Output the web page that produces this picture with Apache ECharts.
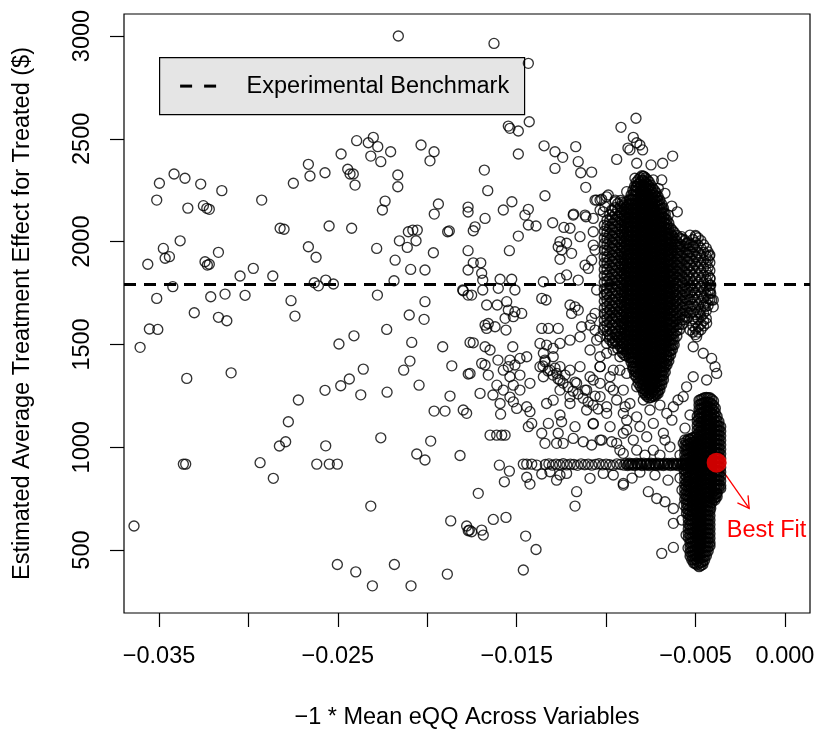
<!DOCTYPE html>
<html>
<head>
<meta charset="utf-8">
<script src="https://cdn.jsdelivr.net/npm/echarts@6/dist/echarts.min.js"></script>
<style>
html,body{margin:0;padding:0;background:#fff;}
#chart{width:817px;height:730px;}
</style>
</head>
<body>
<div id="chart"></div>
<script>
// ---------------- DATA ----------------
const xTickValues = [-0.035,-0.030,-0.025,-0.020,-0.015,-0.010,-0.005,0.000];
const xLabelValues = [-0.035,-0.025,-0.015,-0.005,0.000];
const yTickValues = [500,1000,1500,2000,2500,3000];
const benchmark = 1794;
const bestFit = [-0.00382, 925];
const bestFitArrow = [-0.00348, 886, -0.00200, 703];
const bestFitLabelPos = [-0.00103, 597];

const ptsLeftTop = [
[-0.02162,3000],[-0.02395,2491],[-0.02330,2481],[-0.02302,2507],[-0.02277,2462],[-0.02205,2437],[-0.02316,2416],[-0.02260,2389],[-0.02482,2426],[-0.02035,2470],[-0.01962,2437],[-0.01985,2393],
[-0.02665,2376],[-0.02656,2319],[-0.02572,2335],[-0.02749,2284],[-0.02445,2352],[-0.02432,2329],[-0.02414,2329],[-0.02404,2275],[-0.02165,2324],[-0.02165,2267],
[-0.03498,2284],[-0.03416,2329],[-0.03355,2308],[-0.03267,2280],[-0.03149,2248],
[-0.03513,2202],[-0.03339,2163],[-0.03252,2175],[-0.03233,2162],[-0.03219,2157],
[-0.02926,2202],[-0.02236,2197],[-0.02251,2154],[-0.01938,2183],[-0.01961,2134],[-0.01772,2168],[-0.01772,2144],
[-0.02823,2065],[-0.02801,2060],[-0.02549,2076],[-0.02423,2065],[-0.02106,2048],[-0.02081,2056],[-0.02056,2056],[-0.02156,2004],[-0.02063,2004],[-0.02112,1972],[-0.01886,2048],[-0.01877,2052],
[-0.03382,2004],[-0.03476,1967],[-0.03466,1919],[-0.03442,1927],[-0.03563,1890],[-0.03168,1948],[-0.03243,1902],[-0.03230,1886],[-0.03219,1890],
[-0.02665,1975],[-0.02622,1924],[-0.02283,1967],[-0.02180,1910],[-0.01966,1946],[-0.02093,1865],[-0.02013,1862],[-0.01772,1956],[-0.01772,1862],
[-0.02973,1870],[-0.03047,1833],[-0.02864,1833],[-0.02186,1810],[-0.02632,1800],[-0.02609,1785],[-0.02568,1813],[-0.02525,1794],
[-0.03423,1781],[-0.03513,1724],[-0.03211,1732],[-0.03131,1745],[-0.03019,1739],[-0.02762,1713],[-0.02279,1740],[-0.02013,1708],[-0.01799,1761],[-0.01772,1740],
[-0.03303,1654],[-0.03168,1632],[-0.03121,1615],[-0.02740,1638],[-0.02101,1643],[-0.02018,1622]
];
const ptsLeftBottom = [
[-0.03554,1575],[-0.03507,1573],[-0.03606,1486],[-0.02494,1502],[-0.02410,1542],[-0.02227,1573],[-0.02087,1510],[-0.01914,1489],[-0.01761,1510],
[-0.03345,1335],[-0.03097,1362],[-0.02097,1419],[-0.02132,1375],[-0.02358,1380],[-0.02436,1332],[-0.02484,1299],[-0.02572,1277],[-0.02372,1255],[-0.02225,1268],[-0.02046,1302],[-0.01863,1396],[-0.01771,1356],
[-0.02721,1230],[-0.01873,1249],[-0.01962,1176],[-0.01901,1176],[-0.01799,1181],[-0.01780,1165],
[-0.02777,1124],[-0.02792,1027],[-0.02827,1006],[-0.02568,1007],[-0.02260,1046],[-0.01981,1030],[-0.02059,967],[-0.02013,938],[-0.01817,960],
[-0.03364,918],[-0.03351,918],[-0.02935,925],[-0.02861,849],[-0.02618,918],[-0.02548,918],[-0.02503,918],
[-0.02316,714],[-0.01869,642],[-0.01780,617],[-0.01771,594],[-0.03640,617],
[-0.02503,430],[-0.02400,394],[-0.02184,430],[-0.02307,326],[-0.02091,326],[-0.01888,383]
];
const ptsMidTop = [
[-0.01627,2964],[-0.01435,2867],[-0.01547,2562],[-0.01538,2551],[-0.01491,2538],[-0.01430,2583],[-0.01491,2426],[-0.01347,2466],[-0.01286,2437],[-0.01243,2410],[-0.01170,2462],[-0.01156,2389],[-0.01142,2335],[-0.01081,2338],[-0.01286,2356],[-0.01681,2348],[-0.01662,2248],[-0.00941,2400],[-0.00917,2556],[-0.00878,2455],[-0.01114,2264],[-0.01342,2223],[-0.01527,2194],[-0.01575,2154],[-0.01435,2157],[-0.01454,2129],[-0.01677,2113],[-0.01182,2134],[-0.01118,2129],[-0.01062,2202],[-0.01034,2202],[-0.00988,2227],[-0.00950,2194]
];
const ptsMidCenter = [
[-0.01733,2072],[-0.01743,2053],[-0.01435,2081],[-0.01392,2076],[-0.01491,2027],[-0.01299,2092],[-0.01236,2069],[-0.01202,2065],[-0.01184,2129],[-0.01113,2121],[-0.01072,2113],[-0.01016,2145],[-0.01146,2024],[-0.01072,2048],
[-0.01258,2000],[-0.01221,1992],[-0.01268,1975],[-0.01249,1959],[-0.01193,1943],[-0.01258,1914],[-0.01541,1956],
[-0.01743,1897],[-0.01701,1897],[-0.01696,1846],[-0.01690,1813],[-0.01593,1817],[-0.01528,1817],[-0.01351,1805],[-0.01258,1821],[-0.01221,1838],
[-0.01156,1813],[-0.01100,1870],[-0.01118,1886],[-0.01081,1910],[-0.01062,1959],[-0.01072,1983],
[-0.01802,1765],[-0.01752,1740],[-0.01690,1765],[-0.01603,1773],[-0.01510,1765],[-0.01360,1724],[-0.01336,1716],
[-0.01668,1692],[-0.01609,1692],[-0.01556,1708],[-0.01547,1667],[-0.01510,1659],[-0.01472,1651],[-0.01565,1627],[-0.01519,1635],
[-0.01677,1594],[-0.01659,1602],[-0.01668,1578],[-0.01621,1586],[-0.01560,1570],[-0.01360,1578],[-0.01323,1578],[-0.01268,1578],
[-0.01193,1651],[-0.01156,1667],[-0.01174,1683],[-0.01202,1692],[-0.01081,1627],[-0.01090,1594],[-0.01062,1570],[-0.01137,1586],
[-0.01743,1508],[-0.01677,1489],[-0.01649,1473],[-0.01522,1489],[-0.01482,1432],[-0.01444,1440],[-0.01538,1424],
[-0.01696,1408],[-0.01677,1400],[-0.01761,1359],[-0.01659,1351],[-0.01575,1375],[-0.01547,1392],[-0.01538,1343],
[-0.01611,1302],[-0.01575,1278],[-0.01519,1302],[-0.01482,1278],[-0.01426,1311],[-0.01705,1262],[-0.01593,1213],[-0.01519,1221],[-0.01444,1197],
[-0.01370,1392],[-0.01342,1416],[-0.01351,1343],[-0.01314,1375],[-0.01276,1359],[-0.01258,1327],
[-0.01370,1505],[-0.01333,1497],[-0.01296,1481],[-0.01258,1505],[-0.01202,1521],[-0.01146,1537],[-0.01351,1457],[-0.01296,1440],
[-0.01034,1537],[-0.00997,1505],[-0.00960,1473],[-0.01090,1473],[-0.01034,1440],[-0.00941,1537],[-0.00904,1505],
[-0.01258,1392],[-0.01202,1375],[-0.01146,1392],[-0.01090,1343],[-0.01034,1392],[-0.00978,1343],[-0.00923,1375],[-0.01165,1311],[-0.01109,1278],[-0.01034,1311],[-0.00960,1278],[-0.01258,1278],[-0.01202,1246],[-0.01296,1229],
[-0.01353,1395],[-0.01325,1371],[-0.01297,1351],[-0.01269,1332],[-0.01241,1312],[-0.01213,1293],[-0.01185,1273],[-0.01157,1259],[-0.01129,1239],[-0.01101,1220],[-0.01073,1205],[-0.01045,1186],
[-0.01342,1424],[-0.01286,1385],[-0.01230,1351],[-0.01174,1317],[-0.01118,1278],[-0.01062,1249],
[-0.01605,1424],[-0.01510,1400],[-0.01482,1351],[-0.01633,1254],[-0.01538,1244]
];
const ptsMidBottom = [
[-0.01590,1161],[-0.01500,1189],
[-0.01426,1173],[-0.01416,1116],[-0.01435,1100],[-0.01360,1068],[-0.01342,1019],[-0.01323,1116],[-0.01258,1157],[-0.01249,1124],[-0.01268,1068],[-0.01277,1019],[-0.01240,1019],[-0.01174,1100],[-0.01184,1043],[-0.01128,1027],[-0.01081,1011],[-0.01072,1113],[-0.01025,1035],[-0.00969,1027],[-0.00923,986],[-0.00904,1068],[-0.00885,1132],[-0.00894,1197],[-0.00997,1197],[-0.01109,1181],[-0.01202,1213],[-0.01333,1213],
[-0.01649,1059],[-0.01612,1059],[-0.01584,1059],[-0.01565,1059],
[-0.01597,913],[-0.01541,884],[-0.01569,832],
[-0.01463,918],[-0.01444,918],[-0.01416,918],[-0.01388,913],
[-0.01444,854],[-0.01426,821],[-0.01360,870],
[-0.01314,881],[-0.01277,840],[-0.01258,865],[-0.01221,873],
[-0.01090,849],[-0.01016,873],[-0.00960,865],[-0.00904,816],
[-0.01165,784],[-0.01174,714],
[-0.01715,776],[-0.01631,649],[-0.01560,659],
[-0.01765,597],[-0.01752,589],[-0.01696,597],[-0.01687,573],
[-0.01450,568],[-0.01392,503],[-0.01463,403]
];
const ptsRight = [
[-0.00833,2600],[-0.00848,2507],[-0.00829,2481],[-0.00811,2470],[-0.00796,2446],[-0.00867,2446],
[-0.00829,2381],[-0.00749,2373],[-0.00684,2381],[-0.00628,2416],
[-0.00839,2308],[-0.00792,2316],[-0.00736,2300],[-0.00689,2300],[-0.00829,2267],[-0.00708,2259],[-0.00885,2243],[-0.00671,2235],
[-0.00633,2173],[-0.00602,2145],[-0.00652,2129],
[-0.01053,2202],[-0.01025,2206],[-0.00997,2218],[-0.00950,2202],[-0.01006,2170],[-0.01034,2154],[-0.00969,2154],
[-0.00578,2024],[-0.00531,2032],[-0.00498,2024],[-0.00550,1992],[-0.00587,1975],[-0.00513,1975],[-0.00494,1927],[-0.00423,1930],[-0.00419,1821],
[-0.00415,1789],[-0.00415,1748],[-0.00410,1716],[-0.00401,1683],
[-0.01053,1765],[-0.00997,1748],[-0.01062,1651],[-0.00978,1667],[-0.00941,1635],[-0.01016,1570],[-0.01053,1521],[-0.00960,1505],[-0.00904,1537],[-0.00997,1457],[-0.00923,1440],[-0.01034,1392],[-0.00960,1375],[-0.00885,1359],[-0.01072,1327],[-0.00978,1294],[-0.00904,1278],[-0.00829,1294],[-0.01034,1246],[-0.00941,1230],[-0.00867,1213],[-0.00792,1230],[-0.00997,1165],[-0.00904,1165],[-0.00829,1148],[-0.00755,1181],[-0.01072,1116],[-0.00978,1100],[-0.00885,1084],[-0.00811,1100],[-0.00736,1116],[-0.01034,1035],[-0.00941,1019],[-0.00848,1035],[-0.00773,1051],[-0.00680,1068],[-0.00904,970],[-0.00829,986],[-0.00736,986],[-0.00643,1002],[-0.00569,1019],
[-0.00475,1781],[-0.00419,1765],[-0.00401,1716],[-0.00447,1683],[-0.00475,1651],[-0.00438,1603],[-0.00531,1570],[-0.00494,1537],[-0.00513,1489],[-0.00457,1457],[-0.00410,1432],[-0.00391,1392],[-0.00382,1359],[-0.00438,1327],[-0.00513,1343],[-0.00550,1294],[-0.00569,1246],[-0.00624,1197],[-0.00661,1165],
[-0.00699,1205],[-0.00632,1132],[-0.00559,1093],[-0.00531,1157],[-0.00598,1230],[-0.00671,1035],[-0.00531,1035],[-0.00587,962],[-0.00699,962],[-0.00783,962],
[-0.00727,865],[-0.00654,840],[-0.00587,850],[-0.00531,816],[-0.00811,879],[-0.00855,850],
[-0.00764,784],[-0.00717,751],[-0.00671,735],[-0.00624,702],[-0.00624,630],[-0.00689,484],[-0.00624,513],[-0.00904,824],
[-0.00576,792],[-0.00565,719],[-0.00576,646],[-0.00553,573],[-0.00542,510],[-0.00565,889],
[-0.00415,703],[-0.00429,759],[-0.00391,743],[-0.00382,776]
];
const mainCore = [
[-0.0088,[2180,2158,2136,2114,2092,2070,2048,2026,2004,1982,1960,1938,1916,1894,1872,1850,1828,1806,1784,1762,1740,1718,1696,1674,1652,1630,1608,1586,1564,1542,1520,1498,1476,1454]],
[-0.0087,[2204,2182,2160,2138,2116,2094,2072,2050,2028,2006,1984,1962,1940,1918,1896,1874,1852,1830,1808,1786,1764,1742,1720,1698,1676,1654,1632,1610,1588,1566,1544,1522,1500,1478,1456,1436]],
[-0.0086,[2227,2205,2183,2161,2139,2117,2095,2073,2051,2029,2007,1985,1963,1941,1919,1897,1875,1853,1831,1809,1787,1765,1743,1721,1699,1677,1655,1633,1611,1589,1567,1545,1523,1501,1479,1457,1435,1413]],
[-0.0085,[2250,2228,2206,2184,2162,2140,2118,2096,2074,2052,2030,2008,1986,1964,1942,1920,1898,1876,1854,1832,1810,1788,1766,1744,1722,1700,1678,1656,1634,1612,1590,1568,1546,1524,1502,1480,1458,1436,1414,1392,1380]],
[-0.0084,[2270,2248,2226,2204,2182,2160,2138,2116,2094,2072,2050,2028,2006,1984,1962,1940,1918,1896,1874,1852,1830,1808,1786,1764,1742,1720,1698,1676,1654,1632,1610,1588,1566,1544,1522,1500,1478,1456,1434,1412,1390,1368,1352]],
[-0.0083,[2290,2268,2246,2224,2202,2180,2158,2136,2114,2092,2070,2048,2026,2004,1982,1960,1938,1916,1894,1872,1850,1828,1806,1784,1762,1740,1718,1696,1674,1652,1630,1608,1586,1564,1542,1520,1498,1476,1454,1432,1410,1388,1366,1340]],
[-0.0082,[2301,2279,2257,2235,2213,2191,2169,2147,2125,2103,2081,2059,2037,2015,1993,1971,1949,1927,1905,1883,1861,1839,1817,1795,1773,1751,1729,1707,1685,1663,1641,1619,1597,1575,1553,1531,1509,1487,1465,1443,1421,1399,1377,1355,1333,1313]],
[-0.0081,[2311,2289,2267,2245,2223,2201,2179,2157,2135,2113,2091,2069,2047,2025,2003,1981,1959,1937,1915,1893,1871,1849,1827,1805,1783,1761,1739,1717,1695,1673,1651,1629,1607,1585,1563,1541,1519,1497,1475,1453,1431,1409,1387,1365,1343,1321,1299]],
[-0.0080,[2320,2298,2276,2254,2232,2210,2188,2166,2144,2122,2100,2078,2056,2034,2012,1990,1968,1946,1924,1902,1880,1858,1836,1814,1792,1770,1748,1726,1704,1682,1660,1638,1616,1594,1572,1550,1528,1506,1484,1462,1440,1418,1396,1374,1352,1330,1308,1286]],
[-0.0079,[2318,2296,2274,2252,2230,2208,2186,2164,2142,2120,2098,2076,2054,2032,2010,1988,1966,1944,1922,1900,1878,1856,1834,1812,1790,1768,1746,1724,1702,1680,1658,1636,1614,1592,1570,1548,1526,1504,1482,1460,1438,1416,1394,1372,1350,1328,1306,1284,1266]],
[-0.0078,[2310,2288,2266,2244,2222,2200,2178,2156,2134,2112,2090,2068,2046,2024,2002,1980,1958,1936,1914,1892,1870,1848,1826,1804,1782,1760,1738,1716,1694,1672,1650,1628,1606,1584,1562,1540,1518,1496,1474,1452,1430,1408,1386,1364,1342,1320,1298,1276,1256]],
[-0.0077,[2301,2279,2257,2235,2213,2191,2169,2147,2125,2103,2081,2059,2037,2015,1993,1971,1949,1927,1905,1883,1861,1839,1817,1795,1773,1751,1729,1707,1685,1663,1641,1619,1597,1575,1553,1531,1509,1487,1465,1443,1421,1399,1377,1355,1333,1311,1289,1267,1247]],
[-0.0076,[2291,2269,2247,2225,2203,2181,2159,2137,2115,2093,2071,2049,2027,2005,1983,1961,1939,1917,1895,1873,1851,1829,1807,1785,1763,1741,1719,1697,1675,1653,1631,1609,1587,1565,1543,1521,1499,1477,1455,1433,1411,1389,1367,1345,1323,1301,1279,1257,1240]],
[-0.0075,[2275,2253,2231,2209,2187,2165,2143,2121,2099,2077,2055,2033,2011,1989,1967,1945,1923,1901,1879,1857,1835,1813,1791,1769,1747,1725,1703,1681,1659,1637,1615,1593,1571,1549,1527,1505,1483,1461,1439,1417,1395,1373,1351,1329,1307,1285,1263,1243]],
[-0.0074,[2260,2238,2216,2194,2172,2150,2128,2106,2084,2062,2040,2018,1996,1974,1952,1930,1908,1886,1864,1842,1820,1798,1776,1754,1732,1710,1688,1666,1644,1622,1600,1578,1556,1534,1512,1490,1468,1446,1424,1402,1380,1358,1336,1314,1292,1270,1248]],
[-0.0073,[2249,2227,2205,2183,2161,2139,2117,2095,2073,2051,2029,2007,1985,1963,1941,1919,1897,1875,1853,1831,1809,1787,1765,1743,1721,1699,1677,1655,1633,1611,1589,1567,1545,1523,1501,1479,1457,1435,1413,1391,1369,1347,1325,1303,1281,1259,1248]],
[-0.0072,[2237,2215,2193,2171,2149,2127,2105,2083,2061,2039,2017,1995,1973,1951,1929,1907,1885,1863,1841,1819,1797,1775,1753,1731,1709,1687,1665,1643,1621,1599,1577,1555,1533,1511,1489,1467,1445,1423,1401,1379,1357,1335,1313,1291,1269,1255]],
[-0.0071,[2220,2198,2176,2154,2132,2110,2088,2066,2044,2022,2000,1978,1956,1934,1912,1890,1868,1846,1824,1802,1780,1758,1736,1714,1692,1670,1648,1626,1604,1582,1560,1538,1516,1494,1472,1450,1428,1406,1384,1362,1340,1318,1296,1274,1262]],
[-0.0070,[2202,2180,2158,2136,2114,2092,2070,2048,2026,2004,1982,1960,1938,1916,1894,1872,1850,1828,1806,1784,1762,1740,1718,1696,1674,1652,1630,1608,1586,1564,1542,1520,1498,1476,1454,1432,1410,1388,1366,1344,1322,1300,1280]],
[-0.0069,[2183,2161,2139,2117,2095,2073,2051,2029,2007,1985,1963,1941,1919,1897,1875,1853,1831,1809,1787,1765,1743,1721,1699,1677,1655,1633,1611,1589,1567,1545,1523,1501,1479,1457,1435,1413,1391,1369,1347,1325,1305]],
[-0.0068,[2163,2141,2119,2097,2075,2053,2031,2009,1987,1965,1943,1921,1899,1877,1855,1833,1811,1789,1767,1745,1723,1701,1679,1657,1635,1613,1591,1569,1547,1525,1503,1481,1459,1437,1415,1393,1371,1349,1328]],
[-0.0067,[2134,2112,2090,2068,2046,2024,2002,1980,1958,1936,1914,1892,1870,1848,1826,1804,1782,1760,1738,1716,1694,1672,1650,1628,1606,1584,1562,1540,1518,1496,1474,1452,1430,1408,1390,1365]],
[-0.0066,[2105,2083,2061,2039,2017,1995,1973,1951,1929,1907,1885,1863,1841,1819,1797,1775,1753,1731,1709,1687,1665,1643,1621,1599,1577,1555,1533,1511,1489,1467,1445,1423,1401]]
];
const mainShoulders = [
[-0.0101,[2080,2050,2018,1990,1958,1925,1896,1865,1834,1803,1770,1741,1710,1678,1649,1617,1588]],
[-0.00995,[2105,2075,2045,2015,1985,1955,1925,1895,1865,1835,1805,1775,1745,1715,1685,1655,1625,1595,1565,1540]],
[-0.0098,[2130,2101,2068,2037,2008,1975,1946,1915,1883,1852,1821,1790,1760,1728,1697,1667,1636,1605,1574,1543,1524]],
[-0.00965,[2150,2118,2088,2058,2028,1996,1966,1934,1904,1872,1842,1810,1780,1750,1718,1688,1656,1626,1594,1562,1532,1510]],
[-0.0095,[2165,2133,2104,2072,2043,2011,1980,1950,1918,1888,1857,1826,1795,1764,1733,1702,1671,1640,1609,1578,1548,1515]],
[-0.00935,[2185,2155,2124,2094,2062,2032,2000,1970,1938,1908,1876,1846,1814,1784,1752,1722,1690,1660,1628,1598,1566,1536,1505,1480]],
[-0.0092,[2200,2171,2140,2109,2078,2047,2016,1985,1954,1923,1892,1861,1830,1799,1768,1737,1706,1675,1644,1613,1582,1551,1520,1489]],
[-0.0091,[2190,2160,2130,2100,2068,2036,2004,1974,1942,1912,1880,1850,1818,1788,1756,1726,1694,1664,1632,1602,1570,1540,1508,1478,1460]],
[-0.0090,[2178,2155,2128,2103,2076,2050,2024,1998,1971,1946,1920,1893,1868,1841,1815,1789,1763,1737,1711,1684,1659,1633,1606,1580,1555,1528,1502,1477,1450]],
[-0.0089,[2190,2166,2142,2116,2090,2064,2038,2012,1986,1960,1934,1908,1882,1856,1830,1804,1778,1752,1726,1700,1674,1648,1622,1596,1570,1544,1518,1492,1466,1445]],
[-0.0065,[2090,2064,2038,2012,1986,1960,1934,1908,1882,1856,1830,1804,1778,1752,1726,1700,1674,1648,1622,1596,1570,1544,1518,1492,1466,1440,1420]],
[-0.0064,[2066,2040,2015,1989,1962,1937,1911,1885,1859,1833,1807,1781,1755,1729,1703,1677,1651,1625,1599,1573,1547,1521,1495,1469,1450]],
[-0.0063,[2055,2028,2000,1972,1944,1916,1888,1860,1832,1804,1776,1748,1720,1692,1664,1636,1608,1580,1552,1524,1496,1475]],
[-0.0062,[2045,2016,1987,1958,1929,1900,1871,1842,1813,1784,1755,1726,1697,1668,1639,1610,1581,1552,1523,1498]],
[-0.00605,[2030,2002,1973,1944,1915,1886,1857,1828,1799,1770,1741,1712,1683,1654,1625,1596,1568,1540]],
[-0.0059,[2018,1988,1958,1928,1898,1868,1838,1808,1778,1748,1718,1688,1658,1628,1598,1572]],
[-0.00575,[2012,1980,1950,1920,1890,1860,1830,1800,1770,1740,1710,1680,1650,1620,1598]],
[-0.0056,[2006,1975,1944,1913,1882,1851,1820,1789,1758,1727,1696,1665,1634,1620]],
[-0.00545,[1995,1965,1934,1903,1872,1841,1810,1779,1748,1717,1686,1655,1630]],
[-0.0053,[1983,1950,1917,1884,1851,1818,1785,1752,1719,1686,1653]],
[-0.00515,[2010,1975,1940,1905,1870,1835,1800,1765,1730,1695,1660,1625,1590,1560]]
];
const rightCluster = [
[-0.0050,[2030,1995,1960,1925,1890,1855,1820,1785,1750,1715,1680,1645,1610,1575,1548]],
[-0.00485,[2018,1982,1946,1910,1874,1838,1802,1766,1730,1694,1658,1622,1586,1560]],
[-0.0047,[2005,1968,1931,1894,1857,1820,1783,1746,1709,1672,1635,1598,1572]],
[-0.00455,[1985,1948,1911,1874,1837,1800,1763,1726,1689,1652,1615,1590]],
[-0.0044,[1968,1930,1892,1854,1816,1778,1740,1702,1664,1626]],
[-0.0043,[1950,1912,1874,1836,1798,1760,1722,1690]],
[-0.0042,[1935,1898,1860,1822,1786,1750,1718]]
];
const lowerColumn = [
[-0.0056,[1035,1011,987,963,939,915,891,867,843,819,795,771,747]],
[-0.0055,[1030,1008,986,964,942,920,898,876,854,832,810,788,766,744,722,700,678]],
[-0.0054,[1040,1017,994,971,948,925,902,879,856,833,810,787,764,741,718,695,672,649,626,603,580,560]],
[-0.0053,[1040,1018,996,974,952,930,908,886,864,842,820,798,776,754,732,710,688,666,644,622,600,578,556,534,512,490,470]],
[-0.0052,[1045,1023,1001,979,957,935,913,891,869,847,825,803,781,759,737,715,693,671,649,627,605,583,561,539,517,495,473,452]],
[-0.0051,[1048,1026,1004,982,960,938,916,894,872,850,828,806,784,762,740,718,696,674,652,630,608,586,564,542,520,498,476,454,438]],
[-0.0050,[1050,1028,1006,984,962,940,918,896,874,852,830,808,786,764,742,720,698,676,654,632,610,588,566,544,522,500,478,456,434]],
[-0.0049,[1150,1128,1106,1084,1062,1040,1018,996,974,952,930,908,886,864,842,820,798,776,754,732,710,688,666,644,622,600,578,556,534,512,490,468,446,428]],
[-0.0048,[1228,1206,1184,1162,1140,1118,1096,1074,1052,1030,1008,986,964,942,920,898,876,854,832,810,788,766,744,722,700,678,656,634,612,590,568,546,524,502,480,458,436,420]],
[-0.0047,[1232,1210,1188,1166,1144,1122,1100,1078,1056,1034,1012,990,968,946,924,902,880,858,836,814,792,770,748,726,704,682,660,638,616,594,572,550,528,506,484,462,440,425]],
[-0.0046,[1236,1214,1192,1170,1148,1126,1104,1082,1060,1038,1016,994,972,950,928,906,884,862,840,818,796,774,752,730,708,686,664,642,620,598,576,554,532,510,488,466,444,430]],
[-0.0045,[1240,1218,1196,1174,1152,1130,1108,1086,1064,1042,1020,998,976,954,932,910,888,866,844,822,800,778,756,734,712,690,668,646,624,602,580,558,536,514,492,470,450]],
[-0.0044,[1242,1220,1198,1176,1154,1132,1110,1088,1066,1044,1022,1000,978,956,934,912,890,868,846,824,802,780,758,736,714,692,670,648,626,604,582,560,538,516,494,472]],
[-0.0043,[1241,1219,1197,1175,1153,1131,1109,1087,1065,1043,1021,999,977,955,933,911,889,867,845,823,801,779,757,735,713,691,669,647,625,603,581,559,537,515,495]],
[-0.0042,[1240,1218,1196,1174,1152,1130,1108,1086,1064,1042,1020,998,976,954,932,910,888,866,844,822,800,778,756,734,712,690,668,646,624,602,580,558,536,520]],
[-0.0041,[1233,1211,1189,1167,1145,1123,1101,1079,1057,1035,1013,991,969,947,925,903,881,859,837,815,793,771,749,730]],
[-0.0040,[1225,1203,1181,1159,1137,1115,1093,1071,1049,1027,1005,983,961,939,917,895,873,851,829,807,785,763,745]],
[-0.0039,[1190,1168,1146,1124,1102,1080,1058,1036,1014,992,970,948,926,904,882,860,838,816,794,772,755]],
[-0.0038,[1150,1128,1106,1084,1062,1040,1018,996,974,952,930,908,886,864,842,820,798,776,760]],
[-0.0037,[1125,1103,1081,1059,1037,1015,993,971,949,927,905,883,861,839,817,800]],
[-0.0036,[1100,1078,1056,1034,1012,990,968,946,924,902,880,858,836,814,800]]
];
const bandRings = [
[-0.0134,916],[-0.0132,919],[-0.0130,913],[-0.0128,918],[-0.0126,915],[-0.0124,920],[-0.0122,914],[-0.0120,918],[-0.0118,916],[-0.0116,912],[-0.0114,919],[-0.0112,915],
[-0.0110,918],[-0.0108,913],[-0.0106,917],[-0.0104,920],[-0.0102,914],[-0.0100,918],[-0.0098,915],[-0.0096,912],[-0.0094,919],[-0.0092,916],[-0.0090,913],[-0.0089,920]
];
const bandSolid = [
[-0.0088,912],[-0.0087,922],[-0.0086,914],[-0.0085,920],[-0.0084,912],[-0.0083,922],[-0.0082,915],[-0.0081,921],[-0.0080,912],[-0.0079,922],[-0.0078,914],[-0.0077,920],
[-0.0076,912],[-0.0075,922],[-0.0074,915],[-0.0073,921],[-0.0072,912],[-0.0071,922],[-0.0070,914],[-0.0069,920],[-0.0068,912],[-0.0067,922],[-0.0066,915],[-0.0065,921],
[-0.0064,912],[-0.0063,922],[-0.0062,914],[-0.0061,920],[-0.0060,912],[-0.0059,922],[-0.0058,915],[-0.0057,921],[-0.0056,912],[-0.0055,922],[-0.0054,914],[-0.0053,920],
[-0.0052,912],[-0.0051,922],[-0.0050,915],[-0.0049,921],[-0.0048,912],[-0.0047,922],[-0.0046,914],[-0.0045,920],[-0.0044,912],[-0.0043,922],[-0.0042,915],[-0.0041,921],
[-0.00875,917],[-0.00825,917],[-0.00775,917],[-0.00725,917],[-0.00675,917],[-0.00625,917],[-0.00575,917],[-0.00525,917],[-0.00475,917],[-0.00425,917],
[-0.00855,917],[-0.00805,917],[-0.00755,917],[-0.00705,917],[-0.00655,917],[-0.00605,917],[-0.00555,917],[-0.00505,917],[-0.00455,917]
];

// ---------------- BUILD ----------------
function flattenColumns(cols){
  const out = [];
  cols.forEach(c => c[1].forEach(y => out.push([c[0], y])));
  return out;
}
const sparsePoints = [].concat(ptsLeftTop, ptsLeftBottom, ptsMidTop, ptsMidCenter, ptsMidBottom, ptsRight, bandRings, flattenColumns(rightCluster));
const densePoints = [].concat(flattenColumns(mainShoulders), flattenColumns(mainCore), flattenColumns(lowerColumn), bandSolid);

const FONT = '"Liberation Sans", Arial, Helvetica, sans-serif';
const FS = 23.5;
const fmtX = v => (v < 0 ? '\u2212' : '') + Math.abs(v).toFixed(3);

function ringSeries(name, data, bw){
  return {
    name:name, type:'scatter', data:data,
    symbol:'circle', symbolSize:10, large:false, progressive:0,
    itemStyle:{color:'rgba(0,0,0,0)', borderColor:'#000', borderWidth:bw},
    emphasis:{disabled:true}, silent:true
  };
}

const chart = echarts.init(document.getElementById('chart'), null, {renderer:'canvas'});
const s1 = ringSeries('Estimates', sparsePoints, 1.35);
s1.markLine = {
  silent:true, symbol:['none','none'],
  label:{show:false},
  lineStyle:{color:'#000', width:3, type:[12,8]},
  data:[{yAxis: benchmark}]
};
const option = {
  animation: false,
  backgroundColor: '#ffffff',
  textStyle: {fontFamily: FONT},
  grid: {left:124, right:7, top:14, bottom:117, show:true, borderColor:'#000', borderWidth:1.2, backgroundColor:'transparent', containLabel:false, outerBoundsMode:'none'},
  xAxis: {
    type:'value', min:-0.03696, max:0.00140,
    axisLine:{show:false, onZero:false}, splitLine:{show:false},
    axisTick:{show:true, length:14, lineStyle:{color:'#000', width:1.2}, customValues:xTickValues},
    axisLabel:{show:true, customValues:xLabelValues, formatter:fmtX, fontSize:FS, color:'#000', margin:32, fontFamily:FONT},
    name:'\u22121 * Mean eQQ Across Variables', nameLocation:'middle', nameGap:93,
    nameTextStyle:{fontSize:FS, color:'#000', fontFamily:FONT}
  },
  yAxis: {
    type:'value', min:194, max:3107,
    axisLine:{show:false, onZero:false}, splitLine:{show:false},
    axisTick:{show:true, length:14, lineStyle:{color:'#000', width:1.2}, customValues:yTickValues},
    axisLabel:{show:true, customValues:yTickValues, formatter: v => String(v), rotate:90, fontSize:FS, color:'#000', margin:29, fontFamily:FONT},
    name:'Estimated Average Treatment Effect for Treated ($)', nameLocation:'middle', nameGap:89,
    nameTextStyle:{fontSize:FS, color:'#000', fontFamily:FONT}
  },
  series: [
    s1,
    ringSeries('EstimatesDense', densePoints, 1.6),
    {
      name:'Arrow', type:'custom', data:[bestFitArrow], silent:true,
      renderItem: function(params, api){
        const p1 = api.coord([api.value(0), api.value(1)]);
        const p2 = api.coord([api.value(2), api.value(3)]);
        const ang = Math.atan2(p2[1]-p1[1], p2[0]-p1[0]);
        const L = 13, a = Math.PI/6;
        const h1 = [p2[0]-L*Math.cos(ang-a), p2[1]-L*Math.sin(ang-a)];
        const h2 = [p2[0]-L*Math.cos(ang+a), p2[1]-L*Math.sin(ang+a)];
        return {type:'group', children:[
          {type:'line', shape:{x1:p1[0], y1:p1[1], x2:p2[0], y2:p2[1]}, style:{stroke:'#ff0000', lineWidth:1.3}},
          {type:'polyline', shape:{points:[h1, p2, h2]}, style:{stroke:'#ff0000', fill:null, lineWidth:1.3}}
        ]};
      }
    },
    {
      name:'Best Fit', type:'scatter', data:[bestFit], symbol:'circle', symbolSize:20,
      itemStyle:{color:'#ff0000'}, silent:true, progressive:0,
      markPoint:{
        symbol:'circle', symbolSize:0, silent:true,
        label:{show:true, formatter:'Best Fit', color:'#ff0000', fontSize:FS, fontFamily:FONT, position:'inside', align:'center', verticalAlign:'middle'},
        data:[{coord: bestFitLabelPos}]
      }
    }
  ],
  graphic: [
    {type:'group', left:159, top:57, children:[
      {type:'rect', shape:{x:0.5, y:0.5, width:365, height:57}, style:{fill:'#e5e5e5', stroke:'#000', lineWidth:1.2}},
      {type:'line', shape:{x1:21, y1:29, x2:57, y2:29}, style:{stroke:'#000', lineWidth:3, lineDash:[12,12]}},
      {type:'text', x:87.5, y:29, style:{text:'Experimental Benchmark', fontSize:FS, fontFamily:FONT, fill:'#000', textVerticalAlign:'middle', textAlign:'left'}}
    ]}
  ]
};
chart.setOption(option);
</script>
</body>
</html>
